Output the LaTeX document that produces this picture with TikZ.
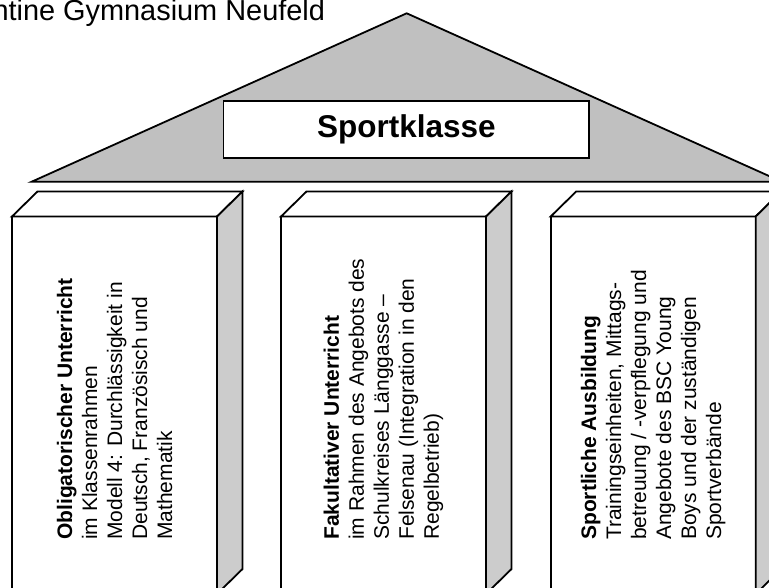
\documentclass[tikz,border=0pt]{standalone}
\usepackage{fontspec}
\setmainfont{Liberation Sans}
\definecolor{roofgray}{HTML}{C0C0C0}
\definecolor{sidegray}{HTML}{CCCCCC}
\tikzset{
  outline/.style={draw=black, line width=1.8pt},
  pillartext/.style={rotate=90, align=left, inner sep=0pt, anchor=west,
    font=\fontsize{21}{25}\selectfont},
}
\begin{document}
\begin{tikzpicture}[x=1pt,y=-1pt]
\useasboundingbox (0,0) rectangle (769,588);
\fill[white] (0,0) rectangle (769,588);
% title
\node[anchor=base west, inner sep=0pt, font=\fontsize{28.9}{32}\selectfont] (title) at (-7.7,21) {ntine Gymnasium Neufeld};
% roof
\draw[outline, fill=roofgray] (31.7,181.7) -- (406.7,13.3) -- (781.7,181.7) -- cycle;
\node[outline, fill=white, minimum width=365.7pt, minimum height=57pt, inner sep=0pt,
  font=\fontsize{31.5}{34}\bfseries] (sk) at (406.3,129.2) {Sportklasse};
% pillars
\foreach \xa in {12, 281, 550.7} {
  \pgfmathsetmacro{\xb}{\xa+205}
  \draw[outline, fill=white] (\xa,216.5) rectangle (\xb,594);
  \draw[outline, fill=white] (\xa,216.5) -- ++(25.5,-25) -- (\xb+25.5,191.5) -- (\xb,216.5) -- cycle;
  \draw[outline, fill=sidegray] (\xb,216.5) -- (\xb+25.5,191.5) -- (\xb+25.5,569) -- (\xb,594) -- cycle;
}
\node[pillartext] (t1) at (114.5,540) {\textbf{Obligatorischer Unterricht}\\im Klassenrahmen\\Modell 4: Durchlässigkeit in\\Deutsch, Französisch und\\Mathematik};
\node[pillartext] (t2) at (383.5,540) {\textbf{Fakultativer Unterricht}\\im Rahmen des Angebots des\\Schulkreises Länggasse –\\Felsenau (Integration in den\\Regelbetrieb)};
\node[pillartext] (t3) at (653.2,540) {\textbf{Sportliche Ausbildung}\\Trainingseinheiten, Mittags-\\betreuung / -verpflegung und\\Angebote des BSC Young\\Boys und der zuständigen\\Sportverbände};
\end{tikzpicture}
\end{document}
